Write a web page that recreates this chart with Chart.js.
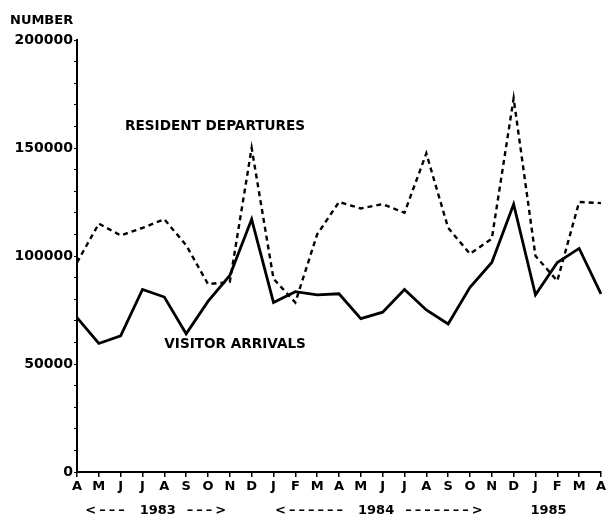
<!DOCTYPE html>
<html>
<head>
<meta charset="utf-8">
<script src="https://cdn.jsdelivr.net/npm/chart.js@4"></script>
<style>
  html, body { margin: 0; padding: 0; background: #fff; }
  #wrap { width: 608px; height: 517px; position: relative; }
</style>
</head>
<body>
<div id="wrap"><canvas id="chart"></canvas></div>
<script>
// Monthly data, April 1983 - April 1985
const months = ['A','M','J','J','A','S','O','N','D','J','F','M','A','M','J','J','A','S','O','N','D','J','F','M','A'];

const residentDepartures = [97000, 115000, 109500, 113000, 117000, 105000, 87000, 88000, 150000, 89500, 78500, 110000,
                            125000, 122000, 124000, 120000, 147500, 113000, 101000, 108000, 173000, 100000, 88500, 125000, 124500];

const visitorArrivals = [71500, 59500, 63000, 84500, 81000, 64000, 79000, 91000, 117000, 78500, 83500, 82000,
                         82500, 71000, 74000, 84500, 75000, 68500, 85500, 97000, 124000, 82000, 97000, 103500, 82500];

const yTicks = [0, 50000, 100000, 150000, 200000];

// year row under the month letters: year, centre (month index), dashes in the arrows either side
const years = ['1983', '1984', '1985'];
const yearCenters = [3.7, 13.7, 21.6];
const leftDashes = [3, 6, 0];
const rightDashes = [3, 7, 0];

// series captions placed in data space (month index, value)
const captions = [
    { text: 'RESIDENT DEPARTURES', x: 2.2, y: 160000 },
    { text: 'VISITOR ARRIVALS', x: 4.0, y: 59000 }
];

const FONT = 'DejaVu Sans';

const textPlugin = {
    id: 'textPlugin',
    afterDraw(chart) {
        const ctx = chart.ctx;
        const xs = chart.scales.x, ys = chart.scales.y;
        ctx.save();
        ctx.fillStyle = '#000';
        ctx.textBaseline = 'middle';
        ctx.textAlign = 'left';
        ctx.font = `bold 13px "${FONT}"`;
        ctx.fillText('NUMBER', 10, 21);

        ctx.font = `bold 13.6px "${FONT}"`;
        captions.forEach(c => {
            ctx.fillText(c.text, xs.getPixelForValue(c.x), ys.getPixelForValue(c.y));
        });

        // year row
        const yRow = 511;
        ctx.font = `bold 13px "${FONT}"`;
        years.forEach((t, i) => {
            const cx = xs.getPixelForValue(yearCenters[i]);
            ctx.letterSpacing = '0px';
            ctx.textAlign = 'center';
            ctx.fillText(t, cx, yRow);
            const half = ctx.measureText(t).width / 2;
            ctx.letterSpacing = '3px';
            if (leftDashes[i] > 0) {
                ctx.textAlign = 'right';
                ctx.fillText('<' + '\u2013'.repeat(leftDashes[i]), cx - half - 12, yRow);
            }
            if (rightDashes[i] > 0) {
                ctx.textAlign = 'left';
                ctx.fillText('\u2013'.repeat(rightDashes[i]) + '>', cx + half + 11, yRow);
            }
        });
        ctx.restore();
    }
};

new Chart(document.getElementById('chart'), {
    type: 'line',
    data: {
        labels: months,
        datasets: [
            {
                label: 'Resident departures',
                data: residentDepartures,
                borderColor: '#000',
                borderWidth: 2.4,
                borderDash: [5, 4],
                pointRadius: 0,
                tension: 0,
                fill: false
            },
            {
                label: 'Visitor arrivals',
                data: visitorArrivals,
                borderColor: '#000',
                borderWidth: 2.8,
                pointRadius: 0,
                tension: 0,
                fill: false
            }
        ]
    },
    options: {
        responsive: true,
        maintainAspectRatio: false,
        animation: false,
        layout: { padding: { left: 0, right: 5, top: 40, bottom: 0 } },
        plugins: {
            legend: { display: false },
            tooltip: { enabled: false }
        },
        scales: {
            x: {
                offset: false,
                grid: { display: true, drawOnChartArea: false, tickLength: 5, color: '#000', lineWidth: 1.5 },
                border: { display: true, color: '#000', width: 2 },
                ticks: {
                    color: '#000',
                    font: { family: FONT, weight: 'bold', size: 13 },
                    padding: 2,
                    maxRotation: 0,
                    autoSkip: false
                },
                afterFit(scale) { scale.height = 45; }
            },
            y: {
                min: 0,
                max: 200000,
                grid: { display: true, drawOnChartArea: false, tickLength: 3, color: '#000', lineWidth: 1 },
                border: { display: true, color: '#000', width: 2 },
                ticks: {
                    stepSize: 10000,
                    autoSkip: false,
                    color: '#000',
                    font: { family: FONT, weight: 'bold', size: 14 },
                    padding: 1,
                    callback: v => yTicks.includes(v) ? String(v) : ''
                },
                afterFit(scale) { scale.width = 77; }
            }
        }
    },
    plugins: [textPlugin]
});
</script>
</body>
</html>
